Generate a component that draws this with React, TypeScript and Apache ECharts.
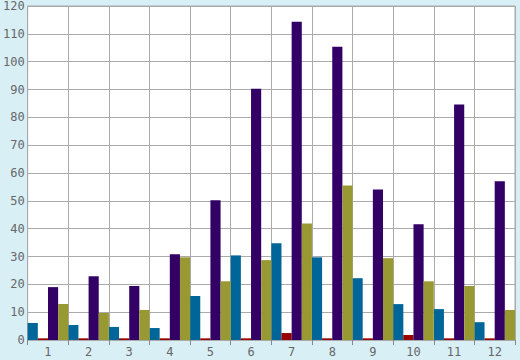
import React, { useEffect, useRef } from "react";
import * as echarts from "echarts";

const categories = ["1", "2", "3", "4", "5", "6", "7", "8", "9", "10", "11", "12"];
const blueValues = [6.1, 5.4, 4.7, 4.3, 15.8, 30.4, 34.8, 29.7, 22.2, 12.9, 11.1, 6.4];
const redValues = [0.6, 0.6, 0.6, 0.6, 0.6, 0.6, 2.5, 0.6, 0.6, 1.8, 0.6, 0.6];
const purpleValues = [19.0, 22.9, 19.4, 30.8, 50.2, 90.3, 114.3, 105.4, 54.1, 41.6, 84.6, 57.0];
const oliveValues = [12.9, 9.7, 10.8, 29.7, 21.1, 28.7, 41.9, 55.5, 29.4, 21.1, 19.4, 10.8];

export default function App() {
  const ref = useRef<HTMLDivElement>(null);
  useEffect(() => {
    if (!ref.current) return;
    const chart = echarts.init(ref.current, undefined, { renderer: "svg" });
    const mk = (name: string, data: number[], color: string) => ({
      name,
      type: "bar",
      data,
      barGap: "0%",
      barCategoryGap: "0%",
      z: 5,
      itemStyle: { color },
    });
    chart.setOption({
      animation: false,
      backgroundColor: "#d9eff6",
      grid: {
        left: 26,
        right: 5,
        top: 5,
        bottom: 20,
        show: true,
        backgroundColor: "#ffffff",
        borderColor: "#aaaaaa",
        borderWidth: 1,
      },
      xAxis: {
        type: "category",
        data: categories,
        boundaryGap: true,
        axisLine: { show: true, lineStyle: { color: "#aaaaaa" } },
        axisTick: { show: true, length: 5, alignWithLabel: false, lineStyle: { color: "#888888" } },
        axisLabel: { color: "#666666", fontFamily: "DejaVu Sans Mono", fontSize: 12, margin: 6 },
        splitLine: { show: true, lineStyle: { color: "#aaaaaa", width: 1 } },
      },
      yAxis: {
        type: "value",
        min: 0,
        max: 120,
        interval: 10,
        axisLine: { show: false },
        axisTick: { show: false },
        axisLabel: { color: "#666666", fontFamily: "DejaVu Sans Mono", fontSize: 12, margin: 3 },
        splitLine: { show: true, lineStyle: { color: "#aaaaaa", width: 1 } },
      },
      series: [
        mk("A", blueValues, "#006699"),
        mk("B", redValues, "#990000"),
        mk("C", purpleValues, "#330066"),
        mk("D", oliveValues, "#999933"),
      ],
    });
    return () => chart.dispose();
  }, []);
  return (
    <div
      ref={ref}
      style={{ position: "fixed", left: 0, top: 0, width: 520, height: 360 }}
    />
  );
}
